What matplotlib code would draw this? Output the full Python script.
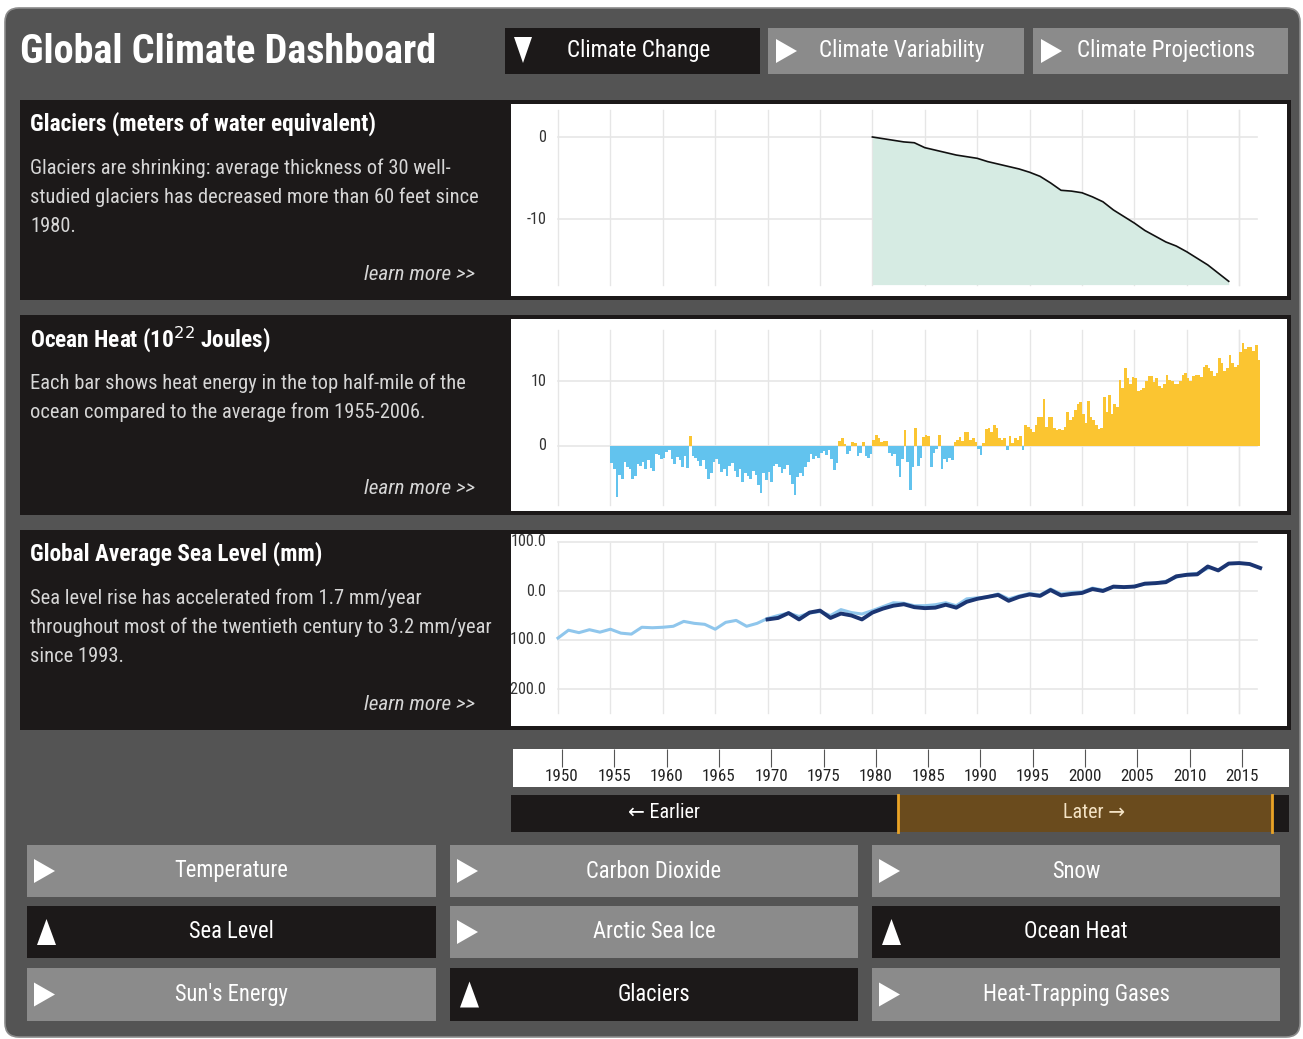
import matplotlib.pyplot as plt
import numpy as np
from matplotlib import font_manager
from matplotlib.patches import Rectangle, Polygon, FancyBboxPatch

W, H = 1303, 1039

# pick a narrow face if one is installed, else Liberation Sans at a smaller size
installed = {f.name for f in font_manager.fontManager.ttflist}
if 'Liberation Sans Narrow' in installed:
    FONT, FS = 'Liberation Sans Narrow', 1.2
elif 'Roboto Condensed' in installed:
    FONT, FS = 'Roboto Condensed', 1.16
else:
    FONT, FS = 'Liberation Sans', 1.0
plt.rcParams['font.family'] = [FONT, 'DejaVu Sans']

# ---- data ----
glacier_years = np.arange(1980, 2015)
glacier_mwe = [0.0, -0.2, -0.4, -0.6, -0.7, -1.3, -1.6, -1.9, -2.2, -2.4,
               -2.6, -3.0, -3.3, -3.6, -3.9, -4.3, -4.8, -5.6, -6.5, -6.6,
               -6.8, -7.3, -7.9, -8.9, -9.7, -10.5, -11.4, -12.1, -12.8, -13.3,
               -14.0, -14.8, -15.6, -16.6, -17.6]

# ocean heat, quarterly, 1955 - 2016
heat_first_year = 1955
ocean_heat = [
    -2.6, -3.6, -7.8, -4.5,  -5.0, -2.5, -3.2, -3.6,  -5.0, -4.6, -2.8, -3.0,
    -2.5, -3.6, -2.2, -3.4,  -3.8, -1.2, -1.4, -2.0,  -1.8, -0.9, -0.6, -2.0,
    -2.8, -1.7, -2.2, -3.2,  -1.5, -3.4, 1.6, -1.6,   -1.8, -2.3, -3.0, -2.2,
    -3.5, -5.0, -4.2, -2.5,  -2.0, -2.8, -4.0, -3.6,  -4.6, -3.0, -2.6, -3.8,
    -4.8, -3.5, -5.6, -4.2,  -4.6, -5.0, -3.8, -4.4,  -6.0, -7.2, -4.2, -5.2,
    -4.0, -5.5, -3.0, -2.8,  -3.2, -4.2, -3.6, -2.9,  -4.4, -5.8, -7.5, -4.8,
    -4.2, -4.6, -3.2, -2.4,  -1.2, -2.0, -1.6, -1.8,  -1.0, -0.8, -1.4, -0.6,
    -2.0, -3.7, -2.6, 0.8,   1.2, 0.3, -1.2, -0.8,    0.6, 0.5, -1.5, -1.0,
    0.6, -1.6, -1.8, -1.3,   1.0, 1.7, 1.2, 0.6,      0.8, 0.7, -1.0, -1.5,
    -1.2, -3.0, -4.7, -2.0,  2.5, -2.4, -6.8, -3.2,   2.7, -3.0, -1.8, 1.4,
    1.7, 1.6, -3.2, -1.0,    -0.5, 1.7, -3.6, -2.0,   -2.5, -1.8, -2.2, 0.6,
    0.9, 1.4, 0.8, 2.2,      2.2, 1.0, 1.3, 0.6,      -0.4, -1.4, 0.5, 2.6,
    2.8, 2.2, 3.2, 2.8,      1.2, 1.0, 1.2, -0.6,     1.6, 0.4, 1.3, 1.0,
    1.5, -0.6, 3.3, 3.0,     2.6, 2.2, 3.2, 4.5,      4.5, 7.3, 3.0, 4.5,
    4.5, 2.8, 2.4, 2.6,      2.5, 3.0, 5.3, 4.0,      4.4, 5.5, 6.5, 6.8,
    5.0, 3.6, 7.0, 4.5,      4.0, 3.2, 2.6, 2.8,      7.6, 5.2, 7.8, 5.0,
    6.5, 6.0, 10.2, 9.0,     12.0, 10.5, 9.5, 10.6,   10.4, 8.5, 8.6, 9.0,
    10.0, 10.7, 10.7, 9.8,   10.5, 9.3, 9.0, 9.6,     11.0, 10.2, 10.0, 9.5,
    9.6, 10.0, 11.0, 11.2,   10.5, 10.0, 10.8, 11.0,  11.0, 10.6, 12.2, 12.4,
    12.0, 11.5, 10.8, 11.2,  13.5, 12.8, 11.5, 12.0,  14.0, 12.8, 12.2, 12.5,
    14.5, 15.8, 15.0, 15.2,  15.3, 14.6, 15.6, 13.2,
]

# sea level (mm): tide-gauge series (light) and later series (dark)
sl_tide_years = np.arange(1950, 2013)
sl_tide = [-96, -80, -85, -79, -84, -78, -86, -88, -74, -75,
           -74, -72, -62, -66, -68, -78, -64, -60, -72, -66,
           -56, -50, -45, -52, -45, -42, -50, -38, -44, -47,
           -40, -32, -24, -25, -30, -30, -28, -24, -30, -16,
           -14, -12, -6, -16, -10, -5, -8, 4, -6, -3,
           -2, 6, 2, 8, 7, 10, 14, 16, 20, 28,
           34, 36, 46]
sl_recent_years = np.arange(1970, 2018)
sl_recent = [-58, -55, -45, -58, -44, -40, -55, -46, -50, -58,
             -44, -36, -30, -27, -33, -35, -34, -28, -34, -22,
             -16, -12, -8, -20, -12, -7, -10, 2, -9, -6,
             -4, 4, 0, 9, 8, 9, 15, 16, 18, 30,
             33, 34, 50, 42, 56, 57, 55, 47]

timeline_years = list(range(1950, 2016, 5))

panel_titles = ['Glaciers (meters of water equivalent)',
                'Ocean Heat (10$^{22}$ Joules)',
                'Global Average Sea Level (mm)']
panel_texts = [['Glaciers are shrinking: average thickness of 30 well-',
                'studied glaciers has decreased more than 60 feet since',
                '1980.'],
               ['Each bar shows heat energy in the top half-mile of the',
                'ocean compared to the average from 1955-2006.'],
               ['Sea level rise has accelerated from 1.7 mm/year',
                'throughout most of the twentieth century to 3.2 mm/year',
                'since 1993.']]

tabs = ['Climate Change', 'Climate Variability', 'Climate Projections']
buttons = [['Temperature', 'Carbon Dioxide', 'Snow'],
           ['Sea Level', 'Arctic Sea Ice', 'Ocean Heat'],
           ["Sun's Energy", 'Glaciers', 'Heat-Trapping Gases']]
active = {'Sea Level', 'Ocean Heat', 'Glaciers'}

# ---- colours ----
DASH = '#545454'
DARK = '#1c1919'
GREY = '#8b8b8b'
GRID = '#e6e6e6'

fig = plt.figure(figsize=(W / 100, H / 100), dpi=100)
fig.patch.set_facecolor('white')
bg = fig.add_axes([0, 0, 1, 1])
bg.set_xlim(0, W)
bg.set_ylim(H, 0)
bg.axis('off')


def box(x0, y0, x1, y1, color, z=1):
    bg.add_patch(Rectangle((x0, y0), x1 - x0, y1 - y0, facecolor=color,
                           edgecolor='none', zorder=z))


def px_axes(x0, y0, x1, y1):
    return fig.add_axes([x0 / W, 1 - y1 / H, (x1 - x0) / W, (y1 - y0) / H])


def tri_right(x, y):
    bg.add_patch(Polygon([(x, y - 12), (x, y + 12), (x + 21, y)],
                         facecolor='white', edgecolor='none', zorder=3))


def tri_up(x, y):
    bg.add_patch(Polygon([(x, y + 13), (x + 19, y + 13), (x + 9.5, y - 13)],
                         facecolor='white', edgecolor='none', zorder=3))


bg.add_patch(FancyBboxPatch((5, 8), 1295, 1029,
                            boxstyle='round,pad=0,rounding_size=14',
                            facecolor=DASH, edgecolor='#8a8a8a', lw=1.2, zorder=0))

# header
bg.text(20, 52, 'Global Climate Dashboard', color='white', fontsize=25 * FS,
        fontweight='bold', va='center', ha='left', zorder=3)
tab_x = [(505, 760), (768, 1024), (1033, 1288)]
for i, (name, (x0, x1)) in enumerate(zip(tabs, tab_x)):
    box(x0, 28, x1, 74, DARK if i == 0 else GREY, z=2)
    if i == 0:
        bg.add_patch(Polygon([(514, 37), (532, 37), (523, 63)],
                             facecolor='white', edgecolor='none', zorder=3))
    else:
        tri_right(x0 + 8, 51)
    bg.text((x0 + x1) / 2 + 6, 51, name, color='white', fontsize=14.3 * FS,
            ha='center', va='center', zorder=3)

# rows: dark panel + white chart area
rows = [(100, 300), (315, 515), (530, 730)]
learn_y = [275, 489, 704]
for (y0, y1), title, lines, ly in zip(rows, panel_titles, panel_texts, learn_y):
    box(20, y0, 1291, y1, DARK, z=1)
    box(511, y0 + 4, 1287, y1 - 4, 'white', z=2)
    bg.text(30, y0 + 24, title, color='white', fontsize=14.4 * FS, fontweight='bold',
            ha='left', va='center', zorder=3)
    for k, line in enumerate(lines):
        bg.text(30, y0 + 68 + 29 * k, line, color='#d6d6d6', fontsize=12.7 * FS,
                ha='left', va='center', zorder=3)
    bg.text(475, ly, 'learn more >>', color='#d6d6d6', fontsize=13.2 * FS,
            style='italic', ha='right', va='center', zorder=3)

# chart x mapping: 1950 at x=558 px, 10.48 px per year
PX_YR = 10.48


def chart_axes(y0, y1):
    ax = px_axes(511, y0, 1287, y1)
    ax.set_xlim(1950 - (558 - 511) / PX_YR, 1950 + (1287 - 558) / PX_YR)
    ax.axis('off')
    return ax


def grid(ax, ticks, labels, vlo, vhi):
    for t in timeline_years + [2015]:
        ax.plot([t, t], [vlo, vhi], color=GRID, lw=1, zorder=0)
    for t, lab in zip(ticks, labels):
        ax.plot([1950, 2016.7], [t, t], color=GRID, lw=1.2, zorder=0)
        ax.text(1948.9, t, lab, ha='right', va='center', fontsize=10 * FS,
                color='#333333', clip_on=True)


# glaciers
ax1 = chart_axes(104, 296)
ax1.set_ylim((137 - 296) / 8.2, (137 - 104) / 8.2)
grid(ax1, [0, -10], ['0', '-10'], 3.3, -18.0)
ax1.fill_between(glacier_years, glacier_mwe, -18.0, color='#d6ebe3', lw=0, zorder=1)
ax1.plot(glacier_years, glacier_mwe, color='#111111', lw=1.2, zorder=2)

# ocean heat
ax2 = chart_axes(319, 511)
ax2.set_ylim(-(511 - 446) / 6.5, (446 - 319) / 6.5)
grid(ax2, [10, 0], ['10', '0'], 17.8, -9.1)
heat_x = heat_first_year + np.arange(len(ocean_heat)) * 0.25
heat_col = ['#fbc531' if v >= 0 else '#62c3ee' for v in ocean_heat]
ax2.bar(heat_x, ocean_heat, width=0.25, align='edge', color=heat_col, lw=0, zorder=1)

# sea level
ax3 = chart_axes(534, 726)
ax3.set_ylim(-(726 - 591) / 0.49, (591 - 534) / 0.49)
grid(ax3, [100, 0, -100, -200], ['100.0', '0.0', '-100.0', '-200.0'], 98, -248)
ax3.plot(sl_tide_years, sl_tide, color='#8fc6ec', lw=2.2, zorder=1)
ax3.plot(sl_recent_years, sl_recent, color='#1b3572', lw=2.8, zorder=2)

# timeline
axt = px_axes(513, 749, 1289, 787)
axt.set_xlim(1950 - (562 - 513) / 10.46, 1950 + (1289 - 562) / 10.46)
axt.set_ylim(0, 1)
axt.set_facecolor('white')
for s in axt.spines.values():
    s.set_visible(False)
axt.set_yticks([])
axt.set_xticks(timeline_years)
axt.set_xticklabels([])
axt.tick_params(axis='x', which='both', bottom=False, top=True, direction='in',
                length=13, width=0.8, color='#555555')
for yr in timeline_years:
    axt.text(yr, 0.28, str(yr), ha='center', va='center', fontsize=10.6 * FS,
             color='#222222')

# earlier / later bar
box(511, 795, 1289, 832, DARK, z=1)
box(898, 795, 1273, 832, '#6a4b1d', z=2)
bg.plot([898, 898], [795, 832], color='#e9a326', lw=2, zorder=3)
bg.plot([1272, 1272], [795, 832], color='#e9a326', lw=2, zorder=3)
bg.text(664, 812, '\u2190 Earlier', color='white', fontsize=12.5 * FS, ha='center',
        va='center', zorder=3)
bg.text(1094, 812, 'Later \u2192', color='#f3e2c4', fontsize=12.5 * FS, ha='center',
        va='center', zorder=3)

# buttons
col_x = [(27, 436), (450, 858), (872, 1280)]
row_y = [(845, 897), (906, 958), (968, 1021)]
for r, (y0, y1) in enumerate(row_y):
    for c, (x0, x1) in enumerate(col_x):
        name = buttons[r][c]
        on = name in active
        box(x0, y0, x1, y1, DARK if on else GREY, z=2)
        yc = (y0 + y1) / 2
        if on:
            tri_up(x0 + 10, yc)
        else:
            tri_right(x0 + 7, yc)
        bg.text((x0 + x1) / 2, yc, name, color='white', fontsize=14 * FS,
                ha='center', va='center', zorder=3)

fig.savefig('out.png', dpi=100)
